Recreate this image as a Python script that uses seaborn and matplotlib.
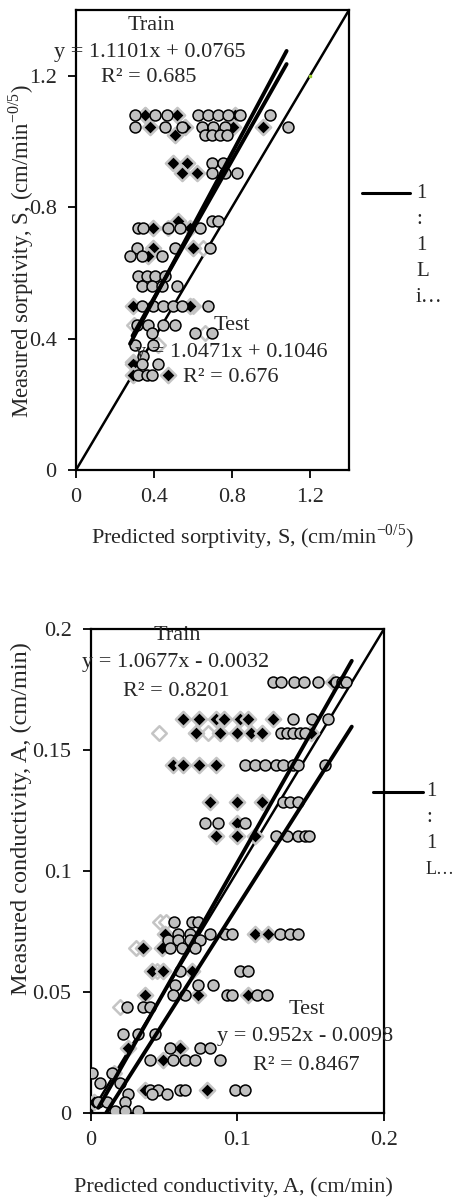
import numpy as np
import pandas as pd
import matplotlib
matplotlib.use("Agg")
import matplotlib.pyplot as plt
from matplotlib.lines import Line2D
from matplotlib.ticker import FuncFormatter
import seaborn as sns

# ---------------- data: sorptivity panel ----------------
s_train_x = [0.354, 0.518, 0.815, 0.379, 0.559, 0.805, 0.959, 0.508, 0.497, 0.569,
             0.544, 0.621, 0.523, 0.395, 0.585, 0.395, 0.600, 0.369, 0.292, 0.585,
             0.292, 0.292, 0.292, 0.472]
s_train_y = [1.079, 1.079, 1.079, 1.045, 1.045, 1.045, 1.045, 1.020, 0.934, 0.934,
             0.903, 0.903, 0.758, 0.736, 0.736, 0.676, 0.676, 0.652, 0.500, 0.500,
             0.330, 0.324, 0.290, 0.290]
s_test_x = [0.303, 0.405, 0.467, 0.626, 0.677, 0.728, 0.779, 0.841, 0.995,
            0.303, 0.456, 0.544, 0.646, 0.703, 0.764, 1.087,
            0.662, 0.697, 0.738, 0.774,
            0.697, 0.754, 0.697, 0.826, 0.764,
            0.697, 0.728, 0.318, 0.344, 0.472, 0.533, 0.636,
            0.687, 0.508, 0.313, 0.277, 0.338, 0.441,
            0.318, 0.364, 0.405, 0.456,
            0.338, 0.390, 0.441, 0.518,
            0.338, 0.395, 0.446, 0.497, 0.544, 0.677,
            0.313, 0.369, 0.446, 0.508,
            0.610, 0.697, 0.390,
            0.303, 0.395, 0.344, 0.338, 0.421,
            0.318, 0.364, 0.390]
s_test_y = [1.079, 1.079, 1.079, 1.079, 1.079, 1.079, 1.079, 1.079, 1.079,
            1.045, 1.045, 1.045, 1.045, 1.045, 1.045, 1.045,
            1.020, 1.020, 1.020, 1.020,
            0.934, 0.934, 0.903, 0.903, 0.903,
            0.758, 0.758, 0.736, 0.736, 0.736, 0.736, 0.736,
            0.676, 0.676, 0.676, 0.652, 0.652, 0.652,
            0.591, 0.591, 0.591, 0.591,
            0.560, 0.560, 0.560, 0.560,
            0.500, 0.500, 0.500, 0.500, 0.500, 0.500,
            0.440, 0.440, 0.440, 0.440,
            0.418, 0.418, 0.418,
            0.379, 0.379, 0.348, 0.324, 0.324,
            0.290, 0.290, 0.290]
s_open_x = [0.354, 0.662, 0.470, 0.600, 0.300, 0.420, 0.650]
s_open_y = [1.079, 0.418, 0.736, 0.500, 0.440, 0.380, 0.676]
s_train_fit = (1.1101, 0.0765, [0.277, 1.08])
s_test_fit = (1.0471, 0.1046, [0.290, 1.08])
s_lim = [0, 1.4]
s_ticks = [0, 0.4, 0.8, 1.2]

# ---------------- data: conductivity panel ----------------
c_train_x = [0.165, 0.063, 0.074, 0.085, 0.091, 0.102, 0.107, 0.124,
             0.072, 0.088, 0.100, 0.109, 0.117, 0.150,
             0.056, 0.063, 0.074, 0.085, 0.081, 0.100, 0.117, 0.100,
             0.085, 0.100, 0.112, 0.0505, 0.112, 0.121, 0.0355, 0.0485,
             0.0416, 0.049, 0.069, 0.0369, 0.073, 0.107, 0.0253, 0.0608,
             0.049, 0.0369, 0.079, 0.002]
c_train_y = [0.178, 0.163, 0.163, 0.163, 0.163, 0.163, 0.163, 0.163,
             0.157, 0.157, 0.157, 0.157, 0.157, 0.157,
             0.144, 0.144, 0.144, 0.144, 0.1285, 0.1285, 0.1285, 0.120,
             0.1145, 0.1145, 0.1145, 0.074, 0.074, 0.074, 0.068, 0.068,
             0.0587, 0.0587, 0.0587, 0.0488, 0.0488, 0.0488, 0.0269, 0.0269,
             0.022, 0.0095, 0.0095, 0.0045]
c_test_x = [0.124, 0.1297, 0.1386, 0.1454, 0.155, 0.167, 0.171, 0.174,
            0.138, 0.151, 0.162,
            0.130, 0.134, 0.138, 0.143, 0.146,
            0.105, 0.112, 0.119, 0.126, 0.131, 0.138, 0.141, 0.160,
            0.131, 0.136, 0.141,
            0.078, 0.087, 0.105,
            0.126, 0.134, 0.141, 0.146, 0.149,
            0.0567, 0.069, 0.073,
            0.0594, 0.0676, 0.081, 0.0915, 0.0962, 0.129, 0.136, 0.141,
            0.0526, 0.0594, 0.0676, 0.0744,
            0.054, 0.062, 0.071,
            0.0608, 0.1017, 0.107,
            0.0573, 0.073, 0.083,
            0.056, 0.064, 0.093, 0.096, 0.113, 0.120,
            0.0246, 0.0355, 0.040,
            0.0218, 0.032, 0.0437,
            0.054, 0.0744, 0.081,
            0.040, 0.056, 0.064, 0.071, 0.088,
            0.0007, 0.0143, 0.006, 0.0198,
            0.040, 0.046, 0.061, 0.064, 0.098, 0.105,
            0.025, 0.0416, 0.052,
            0.0048, 0.011, 0.023,
            0.0164, 0.023, 0.032]
c_test_y = [0.178, 0.178, 0.178, 0.178, 0.178, 0.178, 0.178, 0.178,
            0.163, 0.163, 0.163,
            0.157, 0.157, 0.157, 0.157, 0.157,
            0.144, 0.144, 0.144, 0.144, 0.144, 0.144, 0.144, 0.144,
            0.1285, 0.1285, 0.1285,
            0.120, 0.120, 0.120,
            0.1145, 0.1145, 0.1145, 0.1145, 0.1145,
            0.079, 0.079, 0.079,
            0.074, 0.074, 0.074, 0.074, 0.074, 0.074, 0.074, 0.074,
            0.0715, 0.0715, 0.0715, 0.0715,
            0.068, 0.068, 0.068,
            0.0587, 0.0587, 0.0587,
            0.053, 0.053, 0.053,
            0.0488, 0.0488, 0.0488, 0.0488, 0.0488, 0.0488,
            0.044, 0.044, 0.044,
            0.0326, 0.0326, 0.0326,
            0.0269, 0.0269, 0.0269,
            0.022, 0.022, 0.022, 0.022, 0.022,
            0.0165, 0.0165, 0.0124, 0.0124,
            0.0095, 0.0095, 0.0095, 0.0095, 0.0095, 0.0095,
            0.008, 0.008, 0.008,
            0.0045, 0.0045, 0.0045,
            0.001, 0.001, 0.001]
c_open_x = [0.047, 0.051, 0.0198, 0.045, 0.0305, 0.060, 0.0465, 0.0155, 0.080]
c_open_y = [0.079, 0.079, 0.044, 0.0587, 0.068, 0.0269, 0.157, 0.0165, 0.157]
c_train_fit = (1.0677, -0.0032, [0.005, 0.178])
c_test_fit = (0.952, -0.0098, [0.0105, 0.178])
c_lim = [0, 0.2]
c_xticks = [0, 0.1, 0.2]
c_yticks = [0, 0.05, 0.1, 0.15, 0.2]

W, H = 456, 1199
sns.set_theme(style="white")
plt.rcParams['font.family'] = ['Liberation Serif', 'DejaVu Serif']
plt.rcParams['mathtext.fontset'] = 'custom'
plt.rcParams['mathtext.rm'] = 'Liberation Serif'

fig = plt.figure(figsize=(W / 100, H / 100), dpi=100)


def fx(px):
    return px / W


def fy(py):
    return 1 - py / H


def panel(ax, tr_x, tr_y, te_x, te_y, op_x, op_y, tr_fit, te_fit, lim):
    # 1:1 line
    one = pd.DataFrame({"x": lim, "y": lim})
    sns.lineplot(data=one, x="x", y="y", ax=ax, color="black", lw=1.8, zorder=1)
    sns.scatterplot(x=op_x, y=op_y, ax=ax, marker="D", s=55, color="white",
                    edgecolor="#c4c4c4", linewidth=1.8, zorder=2)
    sns.scatterplot(x=tr_x, y=tr_y, ax=ax, marker="D", s=60, color="black",
                    edgecolor="#c4c4c4", linewidth=1.8, zorder=3)
    sns.scatterplot(x=te_x, y=te_y, ax=ax, marker="o", s=62, color="#c0c0c0",
                    edgecolor="black", linewidth=1.1, zorder=4)
    for slope, inter, xr in (tr_fit, te_fit):
        xr = np.array(xr)
        d = pd.DataFrame({"x": xr, "y": slope * xr + inter})
        sns.lineplot(data=d, x="x", y="y", ax=ax, color="black", lw=2.8, zorder=5)
    ax.set_xlim(lim)
    ax.set_ylim(lim)
    for sp in ax.spines.values():
        sp.set_visible(True)
        sp.set_color("black")
        sp.set_linewidth(1.6)
    ax.tick_params(axis="both", which="major", direction="out", length=6,
                   width=1.3, color="black", labelsize=16,
                   bottom=True, left=True, top=False, right=False)
    ax.tick_params(axis="x", pad=7)
    ax.tick_params(axis="y", pad=8)
    fmt = FuncFormatter(lambda v, p: "%g" % round(v, 4))
    ax.xaxis.set_major_formatter(fmt)
    ax.yaxis.set_major_formatter(fmt)
    ax.set_xlabel("")
    ax.set_ylabel("")


# top panel
ax1 = fig.add_axes([fx(76), fy(470), fx(349) - fx(76), (470 - 10) / H])
panel(ax1, s_train_x, s_train_y, s_test_x, s_test_y, s_open_x, s_open_y,
      s_train_fit, s_test_fit, s_lim)
ax1.set_xticks(s_ticks)
ax1.set_yticks(s_ticks)
ax1.plot([1.2], [1.2], marker="s", ms=2, color="#9acd32", zorder=6)

# bottom panel
ax2 = fig.add_axes([fx(91), fy(1113), fx(384) - fx(91), (1113 - 629) / H])
panel(ax2, c_train_x, c_train_y, c_test_x, c_test_y, c_open_x, c_open_y,
      c_train_fit, c_test_fit, c_lim)
ax2.set_xticks(c_xticks)
ax2.set_yticks(c_yticks)

# axis labels
sup = r"$^{\mathregular{-0/5}}$"
fig.text(fx(252), fy(537), "Predicted sorptivity, S, (cm/min" + sup + ")",
         ha="center", va="center", fontsize=16)
fig.text(fx(21), fy(251), "Measured sorptivity, S, (cm/min" + sup + ")",
         ha="center", va="center", rotation=90, fontsize=16.4)
fig.text(fx(233), fy(1187), "Predicted conductivity, A, (cm/min)",
         ha="center", va="center", fontsize=16)
fig.text(fx(21), fy(819), "Measured conductivity, A, (cm/min)",
         ha="center", va="center", rotation=90, fontsize=17.5)

# annotations
fs_ann = 16
annots = [
    (151, 25, "Train"), (150, 52, "y = 1.1101x + 0.0765"), (149, 77, "R² = 0.685"),
    (232, 325, "Test"), (231, 352, "y = 1.0471x + 0.1046"), (231, 377, "R² = 0.676"),
    (177, 636, "Train"), (176, 663, "y = 1.0677x - 0.0032"), (176, 692, "R² = 0.8201"),
    (307, 1009, "Test"), (305, 1037, "y = 0.952x - 0.0098"), (306, 1066, "R² = 0.8467"),
]
for px, py, t in annots:
    fig.text(fx(px), fy(py), t, ha="center", va="center", fontsize=fs_ann, zorder=10)

# legends (wrapped "1:1 Line" entries)
fig.add_artist(Line2D([fx(362), fx(410)], [fy(193), fy(193)], color="black", lw=2.2))
for i, ch in enumerate(["1", ":", "1", "L", "i…"]):
    fig.text(fx(416), fy(193 + 26.2 * i), ch, ha="left", va="center", fontsize=15)
fig.add_artist(Line2D([fx(373), fx(423)], [fy(792), fy(792)], color="black", lw=2.2))
for i, ch in enumerate(["1", ":", "1", "L…"]):
    fig.text(fx(426), fy(792 + 26 * i), ch, ha="left", va="center",
             fontsize=15 if i < 3 else 13)

fig.savefig("out.png", dpi=100, facecolor="white")
